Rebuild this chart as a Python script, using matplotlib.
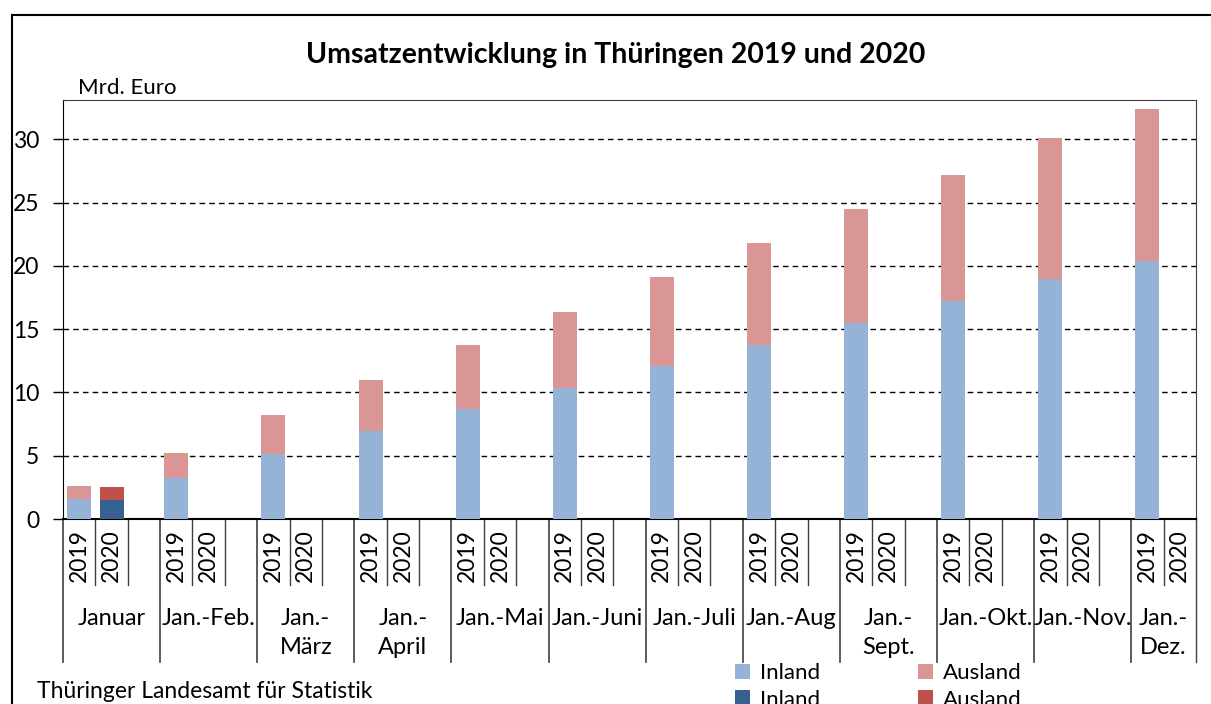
import numpy as np
import matplotlib
matplotlib.use("Agg")
import matplotlib.pyplot as plt
from matplotlib.patches import Rectangle

plt.rcParams['font.family'] = ['Lato', 'DejaVu Sans']

groups = ['Januar', 'Jan.-Feb.', 'Jan.-\nMärz', 'Jan.-\nApril', 'Jan.-Mai', 'Jan.-Juni',
          'Jan.-Juli', 'Jan.-Aug', 'Jan.-\nSept.', 'Jan.-Okt.', 'Jan.-Nov.', 'Jan.-\nDez.']
years = ['2019', '2020']

inland_2019 = [1.58, 3.26, 5.13, 6.95, 8.68, 10.34, 12.08, 13.74, 15.47, 17.2, 18.95, 20.37]
total_2019 = [2.6, 5.24, 8.2, 10.97, 13.74, 16.34, 19.1, 21.8, 24.47, 27.16, 30.08, 32.4]
inland_2020 = [1.52]
total_2020 = [2.55]

ausland_2019 = [t - i for t, i in zip(total_2019, inland_2019)]
ausland_2020 = [t - i for t, i in zip(total_2020, inland_2020)]

c_in19, c_aus19 = '#95B3D7', '#DA9694'
c_in20, c_aus20 = '#376092', '#C0504D'

fig = plt.figure(figsize=(12.11, 7.04), dpi=100)
ax = fig.add_axes([63 / 1211, 1 - 519 / 704, (1196 - 63) / 1211, 419 / 704])

x19 = np.arange(len(groups)) * 3
x20 = np.arange(len(inland_2020)) * 3 + 1
w = 0.74
b1 = ax.bar(x19, inland_2019, w, color=c_in19, label='Inland', zorder=3)
b3 = ax.bar(x19, ausland_2019, w, bottom=inland_2019, color=c_aus19, label='Ausland', zorder=3)
b2 = ax.bar(x20, inland_2020, w, color=c_in20, label='Inland', zorder=3)
b4 = ax.bar(x20, ausland_2020, w, bottom=inland_2020, color=c_aus20, label='Ausland', zorder=3)

ax.set_xlim(-0.5, 34.5)
ax.set_ylim(0, 33.1)
ax.set_yticks(range(0, 31, 5))
ax.tick_params(axis='y', direction='out', length=7, width=1, labelsize=16.5, pad=10)
ax.set_xticks([])
for y in range(5, 31, 5):
    ax.axhline(y, color='black', lw=1, ls=(0, (4, 3)), zorder=1)

ax.spines['left'].set_color('black')
ax.spines['bottom'].set_color('black')
ax.spines['bottom'].set_linewidth(1.5)
for s in ['top', 'right']:
    ax.spines[s].set_color('#404040')

trans = ax.get_xaxis_transform()
for g in range(len(groups)):
    for k, yr in enumerate(years):
        ax.text(3 * g + k, -0.088, yr, rotation=90, ha='center', va='center',
                fontsize=16.5, transform=trans)
    ax.plot([3 * g - 0.5] * 2, [0, -0.341], color='#404040', lw=1.2,
            transform=trans, clip_on=False)
    ax.plot([3 * g + 0.5] * 2, [0, -0.1575], color='#404040', lw=1,
            transform=trans, clip_on=False)
    ax.plot([3 * g + 1.5] * 2, [0, -0.1575 if g < 11 else -0.341], color='#404040', lw=1,
            transform=trans, clip_on=False)
    cx = 3 * g + (1 if g < 11 else 0.5)
    ax.text(cx, -0.212, groups[g], ha='center', va='top', fontsize=17,
            linespacing=1.5, transform=trans)

fig.text(616 / 1211, 1 - 55 / 704, 'Umsatzentwicklung in Thüringen 2019 und 2020',
         ha='center', va='center', fontsize=20.5, fontweight='bold')
fig.text(78 / 1211, 1 - 88 / 704, 'Mrd. Euro', ha='left', va='center', fontsize=16)
fig.text(37 / 1211, 1 - 691 / 704, 'Thüringer Landesamt für Statistik',
         ha='left', va='center', fontsize=16.5)

fig.legend([b1, b2, b3, b4], ['Inland', 'Inland', 'Ausland', 'Ausland'], ncol=2,
           loc='upper left', bbox_to_anchor=(724 / 1211, 1 - 652 / 704),
           frameon=False, fontsize=16, handlelength=0.68, handleheight=0.68,
           handletextpad=0.45, columnspacing=4.4, labelspacing=0.3, borderpad=0)

fig.patches.append(Rectangle((12 / 1211, -0.1), 1.2, 1.1 - 15 / 704, fill=False,
                             edgecolor='black', lw=1.5, transform=fig.transFigure))

fig.savefig('out.png', dpi=100)
